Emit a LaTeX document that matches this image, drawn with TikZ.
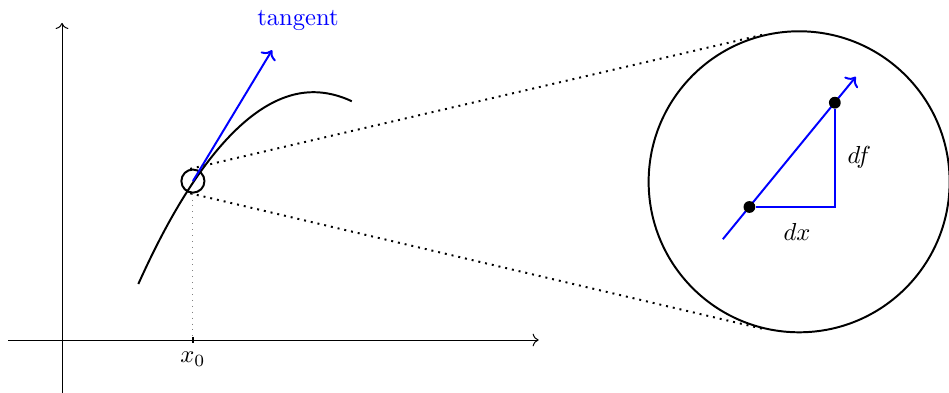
\documentclass[tikz,border=0pt]{standalone}
\usepackage{amsmath}
\usetikzlibrary{arrows.meta,positioning,calc}

\begin{document}
\begin{tikzpicture}[
    axis/.style={->},
    curve/.style={thick},
    tang/.style={->, thick, blue},
    dotpt/.style={circle, fill=black, inner sep=0pt, minimum size=4.8pt},
    lens/.style={circle, draw, thick, inner sep=0pt},
]
    \useasboundingbox (-0.886,-0.743) rectangle (12.671,4.857);
    % axes
    \draw[axis] (-0.77,0) -- (6.81,0);
    \draw[axis] (0,-0.76) -- (0,4.53);
    \coordinate (x0) at (1.87,0);
    \draw[thick] (1.87,-0.04) -- (1.87,0.04);
    \node[below=1.5pt of x0] (x0lab) {$x_0$};

    % function and tangent
    \draw[curve] (1.09,0.8) parabola bend (3.59,3.54) (4.14,3.41);
    \node[lens, minimum size=0.33cm] (spot) at (1.87,2.27) {};
    \draw[dotted, gray] (spot.south) -- (x0);
    \coordinate (tip) at (3.0,4.14);
    \draw[tang] (spot.center) -- (tip);
    \node[blue] (tanglab) at (3.37,4.57) {tangent};

    % magnified view
    \node[lens, minimum size=4.3cm] (zoom) at (10.53,2.26) {};
    \draw[thick, dotted] (spot.103) -- (zoom.103);
    \draw[thick, dotted] (spot.-103) -- (zoom.-103);

    \coordinate (t1) at (9.44,1.44);
    \coordinate (t2) at (11.34,3.76);
    \draw[tang] (t1) -- (t2);
    \node[dotpt] (p1) at (9.82,1.90) {};
    \node[dotpt] (p2) at (11.04,3.39) {};
    \coordinate (corner) at (p2 |- p1);
    \draw[thick, blue] (p1) -- (corner) -- (p2);
    \node (dxlab) at (10.5,1.54) {$dx$};
    \node (dflab) at (11.39,2.61) {$df$};
\end{tikzpicture}
\end{document}
